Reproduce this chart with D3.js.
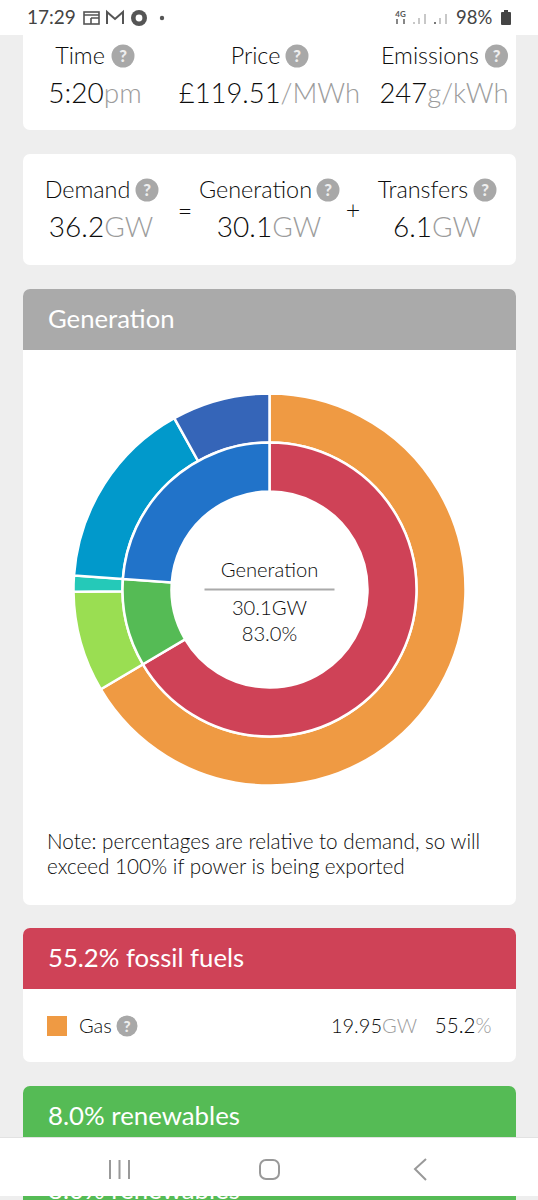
<!DOCTYPE html>
<html><head><meta charset="utf-8">
<script src="https://cdn.jsdelivr.net/npm/d3@7"></script>
<style>html,body{margin:0;padding:0;background:#eee}svg{display:block}text{font-family:Lato,sans-serif}</style>
</head><body><div id="c"></div>
<script>
const outerCategories=["Gas","Wind","Hydro","Nuclear","Biomass"];
const outerValues=[55.2,6.9,1.1,13.1,6.7];
const outerColors=["#ef9a43","#9ade52","#25c9b8","#0199cb","#3565b8"];
const innerCategories=["Fossil fuels","Renewables","Other"];
const innerValues=[55.2,8.0,19.8];
const innerColors=["#cf4257","#55bb55","#2173c9"];

const W=538,H=1200,INK="#0c0c0c",UNIT="#9c9c9c",LIGHT=300;
const svg=d3.select("#c").append("svg").attr("width",W).attr("height",H);
const rect=(x,y,w,h,f,r=0,p=svg)=>p.append("rect").attr("x",x).attr("y",y).attr("width",w).attr("height",h).attr("fill",f).attr("rx",r);
rect(0,0,W,H,"#eeeeee");

function label(x,y,parts,size,anchor="middle",p=svg,weight=LIGHT){
  const t=p.append("text").attr("x",x).attr("y",y).attr("text-anchor",anchor).attr("font-size",size).attr("font-weight",weight);
  parts.forEach(([s,c])=>t.append("tspan").attr("fill",c).text(s));
  return t;
}
function help(cx,cy,r=11.5){
  svg.append("circle").attr("cx",cx).attr("cy",cy).attr("r",r).attr("fill","#a8a8a8");
  label(cx,cy+r*0.56,[["?","#eee"]],r*1.45,"middle",svg,900);
}
function titled(x,y,name,helpX){label(x,y,[[name,INK]],23.4);help(helpX,y-8);}

// card 1
rect(23,20,493,110,"#fff",7);
titled(80,64,"Time",123); titled(255.5,64,"Price",297); titled(430,64,"Emissions",496.5);
label(95,103,[["5:20",INK],["pm",UNIT]],28);
label(269.5,103,[["£119.51",INK],["/MWh",UNIT]],27.4);
label(444,103,[["247",INK],["g/kWh",UNIT]],27.4);

// status bar
rect(0,0,W,35,"#fff");
label(27,24,[["17:29","#444"]],19,"start",svg,400);
const g=svg.append("g").attr("fill","none").attr("stroke","#555").attr("stroke-width",1.6);
g.append("rect").attr("x",84).attr("y",12).attr("width",15).attr("height",12);
g.append("path").attr("d","M84 15h15M91 18v6M91 18h8");
g.append("path").attr("d","M107 24V12l8 7 8-7v12").attr("stroke-width",2);
svg.append("circle").attr("cx",139).attr("cy",18).attr("r",8).attr("fill","#555");
svg.append("circle").attr("cx",139).attr("cy",18).attr("r",3.4).attr("fill","#fff");
svg.append("circle").attr("cx",162).attr("cy",18).attr("r",2.2).attr("fill","#555");
label(400.5,17,[["4G","#555"]],8,"middle",svg,700);
svg.append("path").attr("d","M397 24v-5M404 19v5").attr("stroke","#555").attr("stroke-width",1.4);
svg.append("path").attr("d","M414 24v-2M419 24v-6M425 24v-10").attr("stroke","#bbb").attr("stroke-width",1.6);
svg.append("path").attr("d","M435 24v-2").attr("stroke","#555").attr("stroke-width",1.6);
svg.append("path").attr("d","M440 24v-6M446 24v-10").attr("stroke","#bbb").attr("stroke-width",1.6);
label(456,24,[["98%","#444"]],18.5,"start",svg,400);
rect(501,12,10,13,"#444",1); rect(504,10,4,2,"#444");

// card 2
rect(23,154,493,111,"#fff",7);
titled(87.5,198,"Demand",147); titled(255.5,198,"Generation",328); titled(423,198,"Transfers",485);
label(101,237,[["36.2",INK],["GW",UNIT]],28);
label(269,237,[["30.1",INK],["GW",UNIT]],28);
label(437,237,[["6.1",INK],["GW",UNIT]],28);
label(185,220,[["=",INK]],25,"middle",svg,LIGHT);
label(353,219,[["+",INK]],25,"middle",svg,LIGHT);

// card 3
rect(23,289,493,616,"#fff",7);
rect(23,289,493,61,"#aaaaaa",7); rect(23,340,493,10,"#aaaaaa");
label(48,328,[["Generation","#fff"]],25.7,"start",svg,400);

const cx=269.5,cy=589.5;
const chart=svg.append("g").attr("transform",`translate(${cx},${cy})`);
const pie=d3.pie().sort(null).value(d=>d);
const ring=(vals,cols,r0,r1)=>chart.append("g").selectAll("path").data(pie(vals)).join("path")
  .attr("d",d3.arc().innerRadius(r0).outerRadius(r1)).attr("fill",(d,i)=>cols[i])
  .attr("stroke","#fff").attr("stroke-width",2.5);
ring(outerValues,outerColors,147,196);
ring(innerValues,innerColors,98,147);

label(cx,577,[["Generation",INK]],20.2);
chart.append("line").attr("x1",-65).attr("x2",65).attr("y1",0).attr("y2",0).attr("stroke","#aaa").attr("stroke-width",2);
label(cx,615,[["30.1GW",INK]],20.2);
label(cx,641,[["83.0%",INK]],20.2);
label(47,849,[["Note: percentages are relative to demand, so will",INK]],20.7,"start");
label(47,874,[["exceed 100% if power is being exported",INK]],20.7,"start");

// card 4
rect(23,928,493,134,"#fff",7);
rect(23,928,493,61,innerColors[0],7); rect(23,979,493,10,innerColors[0]);
label(48,967,[["55.2% fossil fuels","#fff"]],25.7,"start",svg,400);
rect(47,1016,20,20,outerColors[0]);
label(79,1033,[[outerCategories[0],INK]],20,"start");
help(127,1026,10.5);
label(417,1033,[["19.95",INK],["GW",UNIT]],20,"end");
label(491.5,1033,[["55.2",INK],["%",UNIT]],20.6,"end");

// card 5
rect(23,1086,493,130,innerColors[1],7);
label(48,1125,[["8.0% renewables","#fff"]],25.8,"start",svg,400);
label(48,1199,[["8.0% renewables","#fff"]],25.8,"start",svg,400);

// nav bar
rect(0,1138,W,58,"#fff");
rect(0,1137,W,1,"#e2e2e2");
const n=svg.append("g").attr("fill","none").attr("stroke","#999").attr("stroke-width",2);
n.append("path").attr("d","M110 1160v19M119.5 1160v19M129 1160v19");
n.append("rect").attr("x",260).attr("y",1160).attr("width",19).attr("height",19).attr("rx",6);
n.append("path").attr("d","M426 1159l-11 10 11 11");
</script></body></html>
